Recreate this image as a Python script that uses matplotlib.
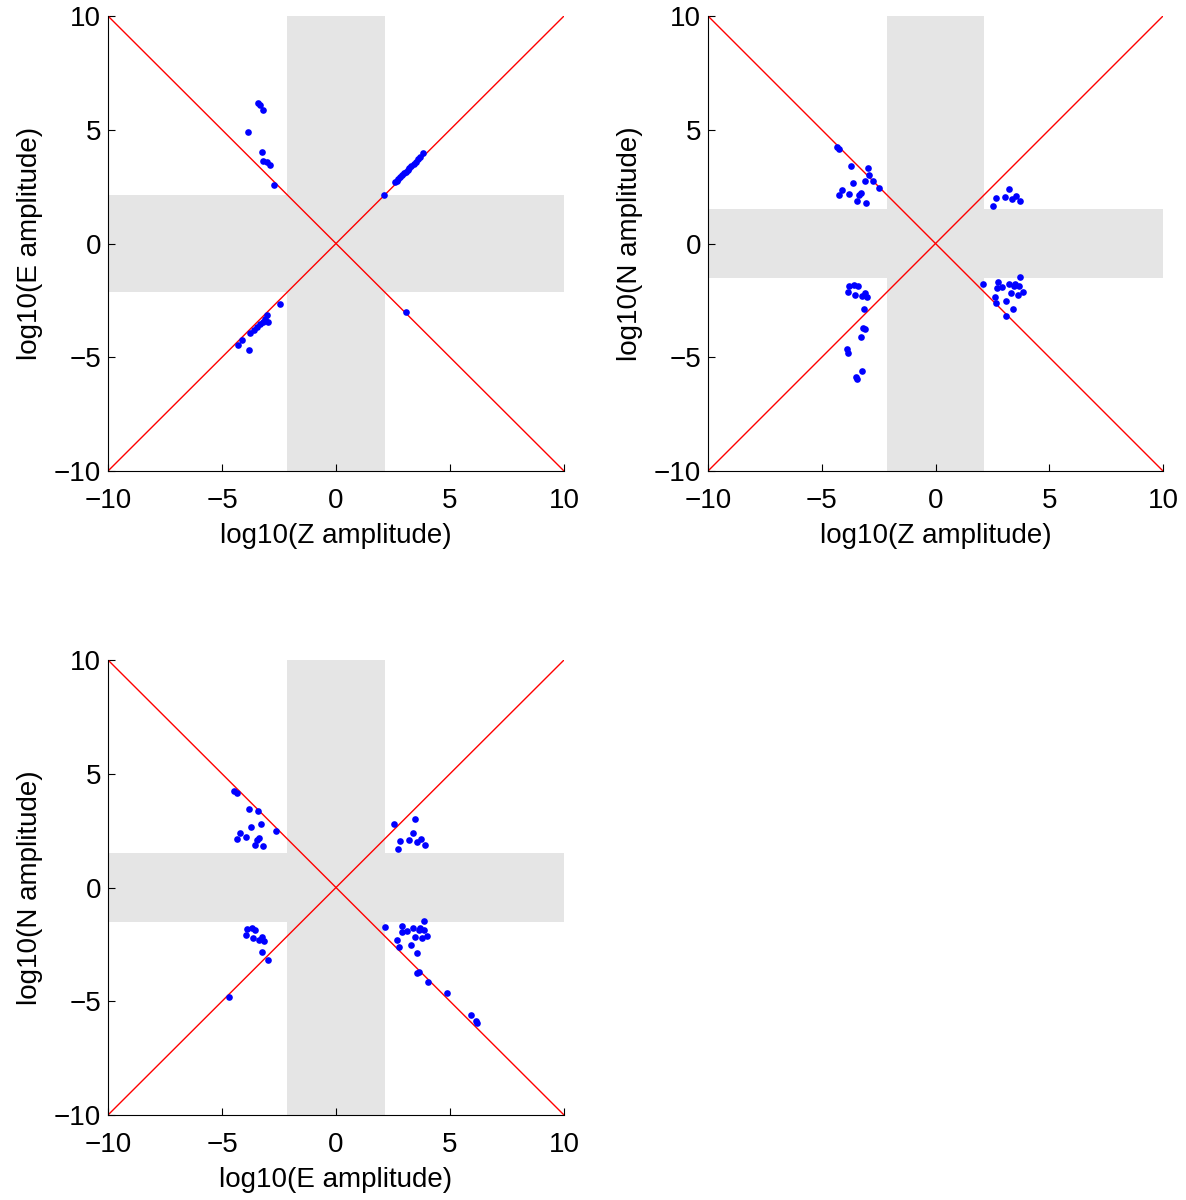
import matplotlib
matplotlib.use("Agg")
import matplotlib.pyplot as plt
import numpy as np

plt.rcParams['font.family'] = ['Liberation Sans', 'DejaVu Sans']

# Z vs E amplitudes (log10)
ze_x = [-3.43, -3.33, -3.21, -3.87, -3.26, -3.19, -3.04, -2.88, -2.71,
        2.12, 2.59, 2.66, 2.74, 2.82, 2.90, 2.98, 3.06, 3.14, 3.22, 3.30,
        3.40, 3.50, 3.60, 3.70, 3.83,
        -2.46, -3.04, -2.97, -3.10, -3.22, -3.35, -3.47, -3.60, -3.77,
        -4.14, -4.28, -3.82, 3.07]
ze_y = [6.17, 6.08, 5.89, 4.88, 4.04, 3.63, 3.57, 3.46, 2.55,
        2.15, 2.69, 2.76, 2.84, 2.92, 3.00, 3.08, 3.16, 3.24, 3.32, 3.40,
        3.50, 3.60, 3.70, 3.80, 3.97,
        -2.65, -3.16, -3.46, -3.30, -3.43, -3.56, -3.68, -3.80, -3.94,
        -4.26, -4.45, -4.70, -3.03]

# Z vs N amplitudes (log10)
zn_x = [-4.32, -4.24, -3.71, -2.98, -2.91, -3.11, -2.73, -2.48, -3.61,
        -4.10, -4.23, -3.80, -3.35, -3.27, -3.45, -3.07,
        -3.79, -3.58, -3.42, -3.83, -3.54, -3.24, -3.10, -3.00, -3.14,
        -3.20, -3.09, -3.27, -3.90, -3.85, -3.23, -3.48, -3.45,
        3.22, 2.65, 3.05, 3.38, 3.54, 3.73, 2.53,
        3.70, 2.10, 2.76, 2.70, 2.92, 3.24, 3.51, 3.46, 3.67, 3.31,
        3.64, 3.83, 2.62, 2.67, 3.11, 3.39, 3.10]
zn_y = [4.23, 4.16, 3.41, 3.34, 3.02, 2.76, 2.76, 2.46, 2.65,
        2.37, 2.14, 2.18, 2.15, 2.20, 1.88, 1.80,
        -1.85, -1.82, -1.88, -2.11, -2.26, -2.32, -2.18, -2.33, -2.87,
        -3.72, -3.78, -4.12, -4.63, -4.80, -5.61, -5.85, -5.95,
        2.40, 2.02, 2.05, 1.96, 2.08, 1.88, 1.67,
        -1.49, -1.77, -1.71, -1.96, -1.92, -1.80, -1.77, -1.89, -1.89, -2.18,
        -2.26, -2.15, -2.33, -2.61, -2.54, -2.87, -3.19]

# E vs N amplitudes (log10)
en_x = [-4.46, -4.36, -3.83, -3.42, -3.30, -3.71, -2.63, -4.21, -4.34,
        -3.93, -3.48, -3.36, -3.57, -3.19,
        -3.92, -3.70, -3.55, -3.96, -3.65, -3.36, -3.23, -3.14, -3.26,
        -3.00, -4.69,
        3.46, 2.54, 3.36, 2.81, 3.22, 3.71, 3.57, 3.90, 2.73,
        3.86, 2.16, 2.91, 2.88, 3.10, 3.39, 3.67, 3.64, 3.85, 3.46,
        3.79, 3.99, 2.66, 2.75, 3.28, 3.55, 3.55, 3.65, 4.05, 4.88,
        5.91, 6.13, 6.20]
en_y = [4.23, 4.16, 3.43, 3.35, 2.77, 2.68, 2.47, 2.39, 2.15,
        2.20, 2.10, 2.17, 1.89, 1.82,
        -1.83, -1.77, -1.88, -2.10, -2.24, -2.32, -2.17, -2.33, -2.84,
        -3.18, -4.80,
        3.03, 2.77, 2.40, 2.04, 2.07, 2.11, 1.99, 1.89, 1.70,
        -1.48, -1.75, -1.70, -1.95, -1.90, -1.79, -1.78, -1.86, -1.85, -2.17,
        -2.24, -2.14, -2.32, -2.61, -2.52, -2.86, -3.77, -3.72, -4.14, -4.65,
        -5.62, -5.85, -5.94]

# half-widths of the grey exclusion bands (x band, y band)
bands = [(2.15, 2.15), (2.13, 1.5), (2.15, 1.5)]
labels = [("log10(Z amplitude)", "log10(E amplitude)"),
          ("log10(Z amplitude)", "log10(N amplitude)"),
          ("log10(E amplitude)", "log10(N amplitude)")]
data = [(ze_x, ze_y), (zn_x, zn_y), (en_x, en_y)]
ticks = [-10, -5, 0, 5, 10]
tick_labels = ['\u221210', '\u22125', '0', '5', '10']

fig = plt.figure(figsize=(11.86, 12), dpi=100)
rects = [
    [108 / 1186, 1 - 471 / 1200, 456 / 1186, 455 / 1200],
    [708 / 1186, 1 - 471 / 1200, 455 / 1186, 455 / 1200],
    [108 / 1186, 1 - 1115 / 1200, 456 / 1186, 455 / 1200],
]

lim = 10
fs = 20
for rect, (bx, by), (xl, yl), (xs, ys) in zip(rects, bands, labels, data):
    ax = fig.add_axes(rect)
    grey = '#e5e5e5'
    ax.fill_between([-bx, bx], [-lim, -lim], [lim, lim], color=grey, lw=0, zorder=1)
    ax.fill_between([-lim, lim], [-by, -by], [by, by], color=grey, lw=0, zorder=1)
    ax.plot([-lim, lim], [-lim, lim], color='red', lw=1.0, zorder=2)
    ax.plot([-lim, lim], [lim, -lim], color='red', lw=1.0, zorder=2)
    ax.plot(xs, ys, 'o', color='blue', ms=4.8, mec='blue', mew=0, zorder=3)
    ax.set_xlim(-lim, lim)
    ax.set_ylim(-lim, lim)
    ax.set_xticks(ticks)
    ax.set_yticks(ticks)
    ax.set_xticklabels(tick_labels)
    ax.set_yticklabels(tick_labels)
    ax.tick_params(direction='in', length=5, width=0.8, labelsize=fs)
    ax.tick_params(axis='x', pad=12)
    ax.tick_params(axis='y', pad=5)
    ax.spines['top'].set_visible(False)
    ax.spines['right'].set_visible(False)
    ax.set_xlabel(xl, fontsize=fs, labelpad=7)
    ax.set_ylabel(yl, fontsize=fs, labelpad=8)
    ax.set_facecolor('white')

fig.savefig('out.png', dpi=100)
